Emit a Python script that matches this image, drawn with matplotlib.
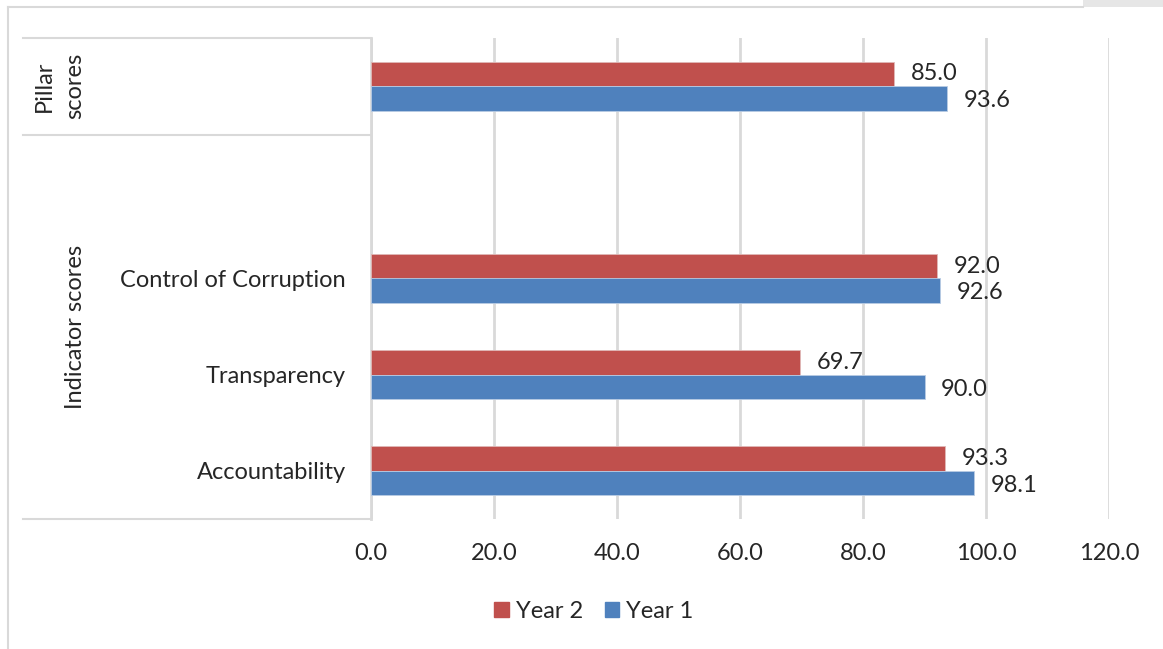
import numpy as np
import matplotlib.pyplot as plt
from matplotlib.lines import Line2D
from matplotlib.patches import Rectangle

plt.rcParams['font.family'] = ['Lato', 'DejaVu Sans']

# rows from bottom to top; the empty row keeps a gap under the pillar bar
categories = ["Accountability", "Transparency", "Control of Corruption", "", ""]
year2 = [93.3, 69.7, 92.0, None, 85.0]
year1 = [98.1, 90.0, 92.6, None, 93.6]
xticks = [0, 20, 40, 60, 80, 100, 120]

RED = "#C0504D"
BLUE = "#4F81BD"
GRID = "#D9D9D9"
TXT = "#262626"
FS = 17

W, H = 1163, 649
fig = plt.figure(figsize=(W / 100, H / 100), dpi=100)

# plot area in pixels
x0, x1, ytop, ybot = 371, 1109, 38, 519
ax = fig.add_axes([x0 / W, 1 - ybot / H, (x1 - x0) / W, (ybot - ytop) / H])

pos = np.arange(len(categories))
bh = 0.255
for i, (v2, v1) in enumerate(zip(year2, year1)):
    if v2 is not None:
        ax.barh(pos[i] + bh / 2, v2, height=bh, color=RED, edgecolor="#E0B8B7", linewidth=0.6, zorder=3)
        ax.annotate(f"{v2:.1f}", (v2, pos[i] + bh / 2), xytext=(12, 0), textcoords="offset points",
                    ha="left", va="center", fontsize=FS, color=TXT)
    if v1 is not None:
        ax.barh(pos[i] - bh / 2, v1, height=bh, color=BLUE, edgecolor="#B9CCE4", linewidth=0.6, zorder=3)
        ax.annotate(f"{v1:.1f}", (v1, pos[i] - bh / 2), xytext=(12, -1.5), textcoords="offset points",
                    ha="left", va="center", fontsize=FS, color=TXT)

ax.set_xlim(0, 120)
ax.set_ylim(-0.5, len(categories) - 0.5)
ax.set_xticks(xticks)
ax.set_xticklabels([f"{t:.1f}" for t in xticks], fontsize=FS, color=TXT)
ax.tick_params(axis="x", length=0, pad=17)
ax.set_yticks(pos)
ax.set_yticklabels(categories, fontsize=FS, color=TXT)
ax.tick_params(axis="y", length=0, pad=18)
ax.grid(axis="x", color=GRID, linewidth=2, zorder=0)
for s in ["top", "right", "bottom"]:
    ax.spines[s].set_visible(False)
ax.spines["left"].set_color(GRID)
ax.spines["left"].set_linewidth(2)

# group boxes on the category side
def hline(y, xa, xb):
    fig.add_artist(Line2D([xa / W, xb / W], [1 - y / H, 1 - y / H], color=GRID, linewidth=1.5))

hline(ytop, 23, x0)
hline(135, 23, x0)
hline(ybot, 23, x0)

fig.text(44 / W, 1 - 86 / H, "Pillar", rotation=90, ha="center", va="center", fontsize=FS, color=TXT)
fig.text(75 / W, 1 - 86 / H, "scores", rotation=90, ha="center", va="center", fontsize=FS, color=TXT)
fig.text(75 / W, 1 - 327 / H, "Indicator scores", rotation=90, ha="center", va="center", fontsize=FS, color=TXT)

# outer frame
fig.add_artist(Line2D([8 / W, 8 / W], [0, 1 - 7 / H], color=GRID, linewidth=1.5))
fig.add_artist(Line2D([8 / W, 1083 / W], [1 - 7 / H, 1 - 7 / H], color=GRID, linewidth=1.5))
fig.add_artist(Rectangle((1083 / W, 1 - 7 / H), 80 / W, 7 / H, transform=fig.transFigure,
                         facecolor="#E6E6E6", edgecolor="none"))

# legend
handles = [Rectangle((0, 0), 1, 1, color=RED), Rectangle((0, 0), 1, 1, color=BLUE)]
fig.legend(handles, ["Year 2", "Year 1"], loc="center", bbox_to_anchor=(594 / W, 1 - 611 / H),
           ncol=2, frameon=False, fontsize=FS, handlelength=0.6, handleheight=0.6,
           handletextpad=0.3, columnspacing=0.95, labelcolor=TXT)

fig.savefig("out.png", dpi=100)
